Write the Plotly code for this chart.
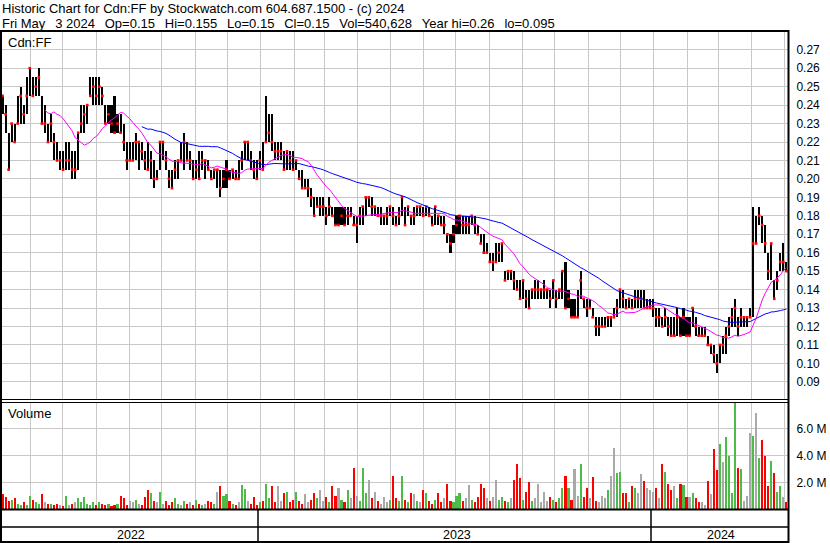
import pandas as pd
import plotly.graph_objects as go

# ---------------- data (prices in cents, volume in millions) ----------------
high_c = [
    24.5, 24, 22.5, 23, 23, 24.5, 25, 24, 25.5, 26, 25.5, 25.5, 26, 24.5, 24, 23, 23.5, 22.5, 22, 21.5,
    21.5, 22, 22, 21.5, 21.5, 22.5, 24, 24, 24, 25.5, 25.5, 25.5, 25.5, 25, 24, 24, 24, 24.5, 23.5, 23.5,
    23, 22, 22,
    22, 22.5, 22, 22, 21.5, 22, 21.5, 21, 20.5, 22, 22, 21.5, 20.5, 20.5, 21, 21, 22, 22.5, 22, 21.5,
    21, 21, 21.5, 21.5, 21, 21, 20.5, 20.5, 20.5, 20.5, 20.5, 21, 20.5, 20.5, 20.5, 21, 21.5, 22, 22, 21.5,
    21, 21, 21.5,
    22, 24.5, 23.5, 23.5, 22, 22, 22, 21.5, 21.5, 21.5, 21.5, 21, 20.5, 20.5, 20, 20, 19.5, 19, 19, 19,
    19, 18.5, 19, 18.5, 18.5, 18.5, 18.5, 18.5, 18.5, 18.5, 18, 18, 18.5, 18.5, 19, 19, 19, 18.5, 18.5, 18.5,
    18, 18.5, 18.5,
    18.5, 18, 18.5, 19, 18.5, 18.5, 18, 18.5, 18.5, 18.5, 18.5, 18.5, 18.5, 18, 18.5, 18, 18, 18, 17, 17,
    17.5, 18, 18, 18, 18, 18, 18, 18, 17.5, 17, 17, 16.5, 16, 16, 16.5, 16.5, 16.5, 15, 15, 15,
    15, 14.5, 14.5,
    14.5, 14, 14, 14, 14.5, 14.5, 14, 14.5, 14, 14, 14.5, 14, 14, 15, 15.5, 14, 13.5, 13.5, 14, 15,
    13.5, 13.5, 13.5, 13, 12.5, 12.5, 12.5, 12.5, 12.5, 12.5, 13, 13.5, 14, 14, 13.5, 13.5, 13.5, 14, 14, 14,
    14, 13.5, 13.5,
    13.5, 13, 13, 12.5, 13, 12.5, 12.5, 12.5, 13, 12.5, 13, 12.5, 12.5, 13, 12.5, 12, 12, 12, 11.5, 11,
    11, 10.5, 11, 11.5, 12, 12.5, 13, 13.5, 12.5, 13, 12.5, 12.5, 13, 18.5, 18, 18.5, 18, 17.5, 16, 16.5,
    14.5, 15, 16, 16.5, 15.5,
]
low_c = [
    23.5, 22.5, 20.5, 22, 22, 23, 23, 23, 23.5, 24.5, 24.5, 24.5, 24.5, 23, 22.5, 22, 22, 21, 21, 20.5,
    20.5, 20.5, 20.5, 20, 20, 20.5, 22.5, 22.5, 23, 24.5, 24, 24, 24, 24, 23, 23, 22.5, 22.5, 22.5, 22.5,
    21.5, 20.5, 21,
    21, 21, 20.5, 21, 20.5, 20.5, 20, 19.5, 20, 20.5, 21, 20.5, 19.5, 19.5, 20, 20, 21, 20.5, 21, 20.5,
    20, 20, 20, 20.5, 20, 20.5, 20, 20, 19.5, 19, 19.5, 19.5, 20, 20, 20, 20, 20.5, 21, 21, 20.5,
    20, 20, 20.5,
    20.5, 22, 22, 21.5, 21, 21, 21, 20.5, 20.5, 20.5, 20.5, 20.5, 20, 19.5, 19.5, 19, 18.5, 18, 18.5, 18,
    18, 17.5, 18, 18, 17.5, 17.5, 17.5, 17.5, 17.5, 18, 17.5, 16.5, 17.5, 17.5, 18, 18.5, 18, 18, 18, 17.5,
    17.5, 17.5, 18,
    17.5, 17.5, 17.5, 18, 17.5, 18, 17.5, 17.5, 18, 18, 18, 18, 18, 17.5, 17.5, 17.5, 17.5, 17, 16.5, 16,
    16.5, 17, 17, 17, 17, 17, 17.5, 17, 17, 16.5, 16, 16, 15.5, 15, 15.5, 15.5, 15.5, 14.5, 14.5, 14.5,
    14, 14, 13.5,
    13.5, 13, 13, 13.5, 13.5, 13.5, 13.5, 13.5, 13.5, 13, 13.5, 13, 13.5, 13.5, 13, 13, 12.5, 12.5, 12.5, 13.5,
    13, 12.5, 13, 12.5, 11.5, 11.5, 12, 12, 12, 12, 12.5, 12.5, 13, 13, 13, 13, 13, 13, 13, 13,
    13, 13, 13,
    12.5, 12, 12, 12, 12, 11.5, 11.5, 11.5, 11.5, 11.5, 11.5, 11.5, 11.5, 12, 11.5, 11.5, 11.5, 11.5, 11, 10.5,
    10, 9.5, 10, 10.5, 10.5, 11.5, 12, 12, 11.5, 12, 12, 12, 12.5, 12.5, 16.5, 17.5, 16.5, 16, 14.5, 14.5,
    13.5, 14, 15, 15, 15,
]
close_c = [
    24.5, 23.5, 20.5, 23, 22, 23, 24.5, 23.5, 24.5, 26, 24.5, 25, 25.5, 23, 23, 22, 23, 22, 21, 21,
    20.5, 21, 21, 20.5, 20.5, 22.5, 23, 23.5, 24, 24.5, 25, 24.5, 25, 24.5, 23, 23.5, 23, 22.5, 23, 22.5,
    22, 21, 21,
    21, 22, 22, 21.5, 21, 20.5, 21, 20, 20, 22, 22, 21, 20, 19.5, 20.5, 21, 21, 22, 21, 21,
    20, 20.5, 20, 21, 21, 20.5, 20, 20.5, 20.5, 19.5, 20, 20.5, 20, 20.5, 20, 20, 21, 22, 22, 21,
    20.5, 20, 21,
    20.5, 22, 22.5, 22, 21.5, 21.5, 21.5, 20.5, 21.5, 21, 20.5, 21, 20, 19.5, 19.5, 19.5, 19, 18, 18.5, 18.5,
    18.5, 18, 18.5, 18, 17.5, 17.5, 18, 17.5, 18, 18, 17.5, 17.5, 18, 18.5, 19, 19, 18.5, 18.5, 18, 18,
    18, 18, 18.5,
    18, 17.5, 18, 19, 17.5, 18.5, 18, 18, 18.5, 18.5, 18, 18.5, 18, 17.5, 18.5, 18, 17.5, 17.5, 17, 16.5,
    17, 17.5, 18, 17.5, 17.5, 17.5, 18, 17.5, 17, 16.5, 16, 16, 15.5, 15.5, 15.5, 16, 16.5, 14.5, 15, 15,
    14.5, 14, 13.5,
    14.5, 13.5, 13, 14, 14, 14, 14, 14, 14, 13.5, 14.5, 13.5, 14, 15, 13, 13.5, 12.5, 12.5, 12.5, 14.5,
    13.5, 13, 13, 12.5, 12, 12, 12, 12, 12.5, 12.5, 12.5, 13, 14, 13.5, 13, 13.5, 13, 13.5, 13.5, 13.5,
    13, 13, 13,
    13, 12.5, 12.5, 12, 12.5, 12, 11.5, 11.5, 12.5, 11.5, 12.5, 11.5, 11.5, 13, 12, 11.5, 11.5, 11.5, 11, 11,
    10.5, 10, 11, 11, 11.5, 12, 12.5, 13, 12, 12.5, 12.5, 12.5, 12.5, 16.5, 16.5, 18, 17.5, 16.5, 15, 16.5,
    13.5, 14.5, 15.5, 15.5, 15,
]
volume_m = [
    1.1, 0.9, 0.6, 0.7, 0.8, 0.4, 0.3, 0.5, 0.3, 1.0, 0.7, 0.5, 0.4, 1.1, 0.5, 0.4, 0.4, 0.3, 0.4, 0.3,
    0.2, 1.0, 0.3, 0.4, 0.5, 0.8, 0.5, 0.9, 0.4, 0.3, 0.5, 0.3, 0.5, 0.4, 0.3, 0.4, 0.2, 0.3, 0.4, 1.0,
    0.8, 0.3, 0.6,
    0.5, 0.7, 0.4, 0.3, 0.9, 1.4, 1.2, 0.6, 0.5, 1.3, 0.4, 0.6, 0.3, 0.5, 0.8, 0.4, 0.3, 0.6, 0.4, 0.5,
    0.3, 0.7, 0.4, 0.3, 0.4, 0.6, 0.5, 0.4, 1.3, 1.7, 1.0, 1.1, 0.6, 0.4, 0.3, 0.5, 1.8, 1.5, 0.6, 0.4,
    0.9, 0.3, 0.5,
    0.6, 1.9, 0.8, 1.7, 0.5, 1.7, 0.6, 1.2, 1.3, 0.5, 0.7, 1.3, 0.6, 0.4, 1.1, 0.5, 0.7, 1.2, 0.8, 1.4,
    0.6, 0.9, 0.5, 1.7, 1.0, 1.6, 0.7, 0.5, 1.4, 0.8, 3.1, 1.0, 0.6, 3.1, 1.2, 2.2, 0.8, 1.3, 0.6, 0.4,
    0.9, 0.5, 0.7,
    2.5, 0.8, 0.6, 2.5, 0.7, 0.5, 1.2, 1.1, 0.6, 0.5, 1.4, 1.2, 0.6, 0.4, 0.7, 1.2, 0.5, 0.8, 1.9, 0.6,
    0.5, 1.0, 1.2, 0.6, 0.8, 1.8, 0.7, 0.5, 0.9, 1.9, 1.6, 0.8, 0.6, 0.9, 2.2, 0.7, 0.9, 0.6, 0.5, 0.8,
    2.2, 3.4, 2.3,
    0.7, 1.3, 2.0, 0.6, 0.8, 1.9, 0.5, 1.3, 0.6, 0.9, 0.7, 0.5, 0.8, 1.6, 2.5, 1.6, 0.7, 3.0, 1.0, 3.4,
    0.9, 1.6, 0.8, 2.4, 0.6, 0.5, 1.0, 0.8, 1.4, 2.5, 4.6, 2.7, 2.8, 1.2, 1.2, 0.5, 1.7, 1.6, 1.2, 2.6,
    2.1, 1.6, 1.4,
    1.3, 1.6, 0.8, 3.4, 2.8, 1.9, 1.4, 1.7, 0.8, 1.9, 1.8, 0.9, 0.9, 1.2, 0.8, 0.5, 0.5, 0.3, 2.1, 1.1,
    4.5, 2.9, 4.9, 3.5, 5.4, 4.0, 1.2, 8.5, 3.1, 3.0, 0.6, 1.0, 5.7, 5.5, 7.2, 3.8, 5.2, 4.0, 1.7, 3.6,
    2.7, 1.3, 1.7, 0.9, 0.54,
]
price_ticks = [0.09, 0.10, 0.11, 0.12, 0.13, 0.14, 0.15, 0.16, 0.17, 0.18, 0.19,
               0.20, 0.21, 0.22, 0.23, 0.24, 0.25, 0.26, 0.27]
volume_ticks = [2, 4, 6]
volume_tick_text = ["2.0 M", "4.0 M", "6.0 M"]
years = ["2022", "2023", "2024"]

header1 = "Historic Chart for Cdn:FF by Stockwatch.com 604.687.1500 - (c) 2024"
header2 = ("Fri May  3 2024  Op=0.15  Hi=0.155  Lo=0.15  Cl=0.15  "
           "Vol=540,628  Year hi=0.26  lo=0.095")

assert len(high_c) == len(low_c) == len(close_c) == len(volume_m)

# ---------------- derived ----------------
N = len(close_c)
dates = pd.date_range("2022-05-06", "2024-05-03", periods=N)
high = pd.Series(high_c) / 100.0
low = pd.Series(low_c) / 100.0
close = pd.Series(close_c) / 100.0
ma_short = close.rolling(15).mean()
ma_long = close.rolling(47).mean()
diff = close.diff().fillna(-1)
vol_colors = ["#4cbb47" if d > 0 else ("#ff0000" if d < 0 else "#a9a9a9") for d in diff]

DAY = 86400000
BAR_W = 1.95 * DAY

# ---------------- geometry helpers ----------------
W, H = 830, 543
ML, MR, MT, MB = 2, 42, 32, 34
PW, PH = W - ML - MR, H - MT - MB


def pxx(p):
    return (p - ML) / PW


def pxy(p):
    return (H - MB - p) / PH


FONT = "Liberation Sans, Arial, sans-serif"
GRID = "#c8c8c8"

fig = go.Figure()
fig.add_trace(go.Bar(x=dates, y=high - low, base=low, width=BAR_W,
                     marker=dict(color="black", line=dict(width=0)),
                     xaxis="x", yaxis="y", hoverinfo="skip"))
fig.add_trace(go.Scatter(x=dates, y=close, mode="markers",
                         marker=dict(symbol="square", size=2.6, color="#ff0000", line=dict(width=0)),
                         xaxis="x", yaxis="y", hoverinfo="skip"))
fig.add_trace(go.Scatter(x=dates, y=ma_long, mode="lines",
                         line=dict(color="#0000ff", width=1),
                         xaxis="x", yaxis="y", hoverinfo="skip"))
fig.add_trace(go.Scatter(x=dates, y=ma_short, mode="lines",
                         line=dict(color="#ff00ff", width=1),
                         xaxis="x", yaxis="y", hoverinfo="skip"))
fig.add_trace(go.Bar(x=dates, y=volume_m, width=BAR_W,
                     marker=dict(color=vol_colors, line=dict(width=0)),
                     xaxis="x2", yaxis="y2", hoverinfo="skip"))

x_range = ["2022-05-05 12:00", "2024-05-04 12:00"]
xcommon = dict(type="date", range=x_range, showticklabels=False, showgrid=True,
               gridcolor=GRID, gridwidth=1, dtick="M1", tick0="2022-06-01",
               ticks="", zeroline=False, showline=False, fixedrange=True)

shapes = []


def hline(y, x0=0, x1=789, w=2):
    shapes.append(dict(type="line", xref="paper", yref="paper", x0=pxx(x0), x1=pxx(x1),
                       y0=pxy(y), y1=pxy(y), line=dict(color="black", width=w), layer="above"))


def vline(x, y0, y1, w=2):
    shapes.append(dict(type="line", xref="paper", yref="paper", x0=pxx(x), x1=pxx(x),
                       y0=pxy(y0), y1=pxy(y1), line=dict(color="black", width=w), layer="above"))


hline(31)
hline(399.5, w=1.2)
hline(402.5, w=1.2)
hline(509.5)
hline(527, w=1.5)
hline(542)
vline(1, 30, 543)
vline(788.5, 30, 543)
vline(258, 509, 542, w=1.5)
vline(651, 509, 542, w=1.5)

GAP = "\u00a0\u00a0\u2009"
annotations = [
    dict(text=header1, x=pxx(1), y=pxy(8.5), size=13),
    dict(text=header2.replace("  ", GAP), x=pxx(1), y=pxy(23), size=13),
    dict(text="Cdn:FF", x=pxx(7), y=pxy(43), size=13),
    dict(text="Volume", x=pxx(7), y=pxy(413), size=13),
]
for a in annotations:
    sz = a.pop("size")
    a.update(xref="paper", yref="paper", xanchor="left", yanchor="middle",
             showarrow=False, font=dict(family=FONT, size=sz, color="black"), borderpad=0)

year_edges = [pd.Timestamp(x_range[0]), pd.Timestamp("2023-01-01"),
              pd.Timestamp("2024-01-01"), pd.Timestamp(x_range[1])]
for i, yr in enumerate(years):
    mid = year_edges[i] + (year_edges[i + 1] - year_edges[i]) / 2
    annotations.append(dict(text=yr, x=mid, xref="x", y=pxy(534.5), yref="paper",
                            xanchor="center", yanchor="middle", showarrow=False,
                            font=dict(family=FONT, size=12.5, color="black")))

fig.update_layout(
    width=W, height=H,
    margin=dict(l=ML, r=MR, t=MT, b=MB, pad=0),
    paper_bgcolor="white", plot_bgcolor="white",
    showlegend=False, bargap=0,
    font=dict(family=FONT, size=12, color="black"),
    xaxis=dict(domain=[0, 1], anchor="y", **xcommon),
    xaxis2=dict(domain=[0, 1], anchor="y2", matches="x", **xcommon),
    yaxis=dict(domain=[pxy(400), 1], anchor="x", side="right",
               range=[0.26 - (400 - 67.3) / 1850, 0.26 + (67.3 - 31) / 1850],
               tickvals=price_ticks, tickformat=".2f", showgrid=True, gridcolor=GRID,
               ticks="outside", ticklen=5, tickcolor="rgba(0,0,0,0)",
               zeroline=False, showline=False, fixedrange=True, automargin=False,
               tickfont=dict(family=FONT, size=12, color="black")),
    yaxis2=dict(domain=[0, pxy(403)], anchor="x2", side="right",
                range=[0, 2 * (509 - 403) / 26.7],
                tickvals=volume_ticks, ticktext=volume_tick_text, showgrid=True, gridcolor=GRID,
                ticks="outside", ticklen=5, tickcolor="rgba(0,0,0,0)",
                zeroline=False, showline=False, fixedrange=True, automargin=False,
                tickfont=dict(family=FONT, size=12, color="black")),
    shapes=shapes,
    annotations=annotations,
)

fig.write_html("out.html", config={"displayModeBar": False, "staticPlot": True},
               post_script="document.body.style.margin='0px';document.body.style.padding='0px';")
